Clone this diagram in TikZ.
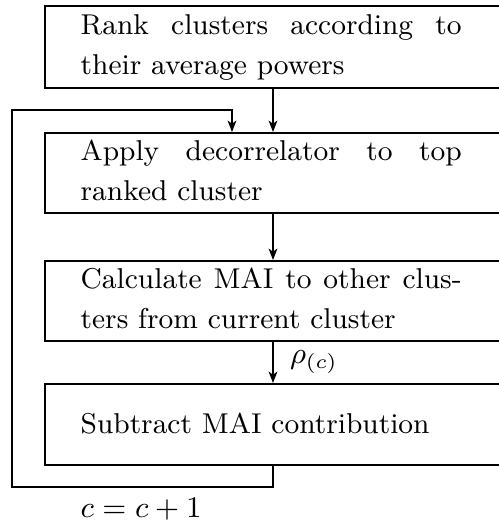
\documentclass[tikz,border=0pt]{standalone}
\usetikzlibrary{arrows.meta}
\begin{document}
\begin{tikzpicture}[x=0.3pt,y=-0.3pt,
  every node/.style={font=\fontsize{8.6}{12}\selectfont},
  stage/.style={draw, line width=0.6pt, rectangle, anchor=north west,
    minimum width=145pt, inner sep=0pt},
  blurb/.style={anchor=west, inner sep=0pt, text width=114.3pt,
    align=justify},
  arr/.style={line width=0.6pt, -{Stealth[length=3.4pt,width=2.6pt,inset=0.9pt]}}
]
\useasboundingbox (0,0) rectangle (499,520);

% processing stages
\node[stage, minimum height=24.6pt] (b1) at (44,5) {};
\node[stage, minimum height=24pt]   (b2) at (44,132) {};
\node[stage, minimum height=24pt]   (b3) at (44,260) {};
\node[stage, minimum height=24.3pt] (b4) at (44,383) {};

\node[blurb] (t1) at (80,46) {\strut Rank clusters according to\linebreak their average powers\strut};
\node[blurb] (t2) at (80,172) {\strut Apply decorrelator to top\linebreak ranked cluster\strut};
\node[blurb] (t3) at (80,300) {\strut Calculate MAI to other clus-\linebreak ters from current cluster\strut};
\node[blurb] (t4) at (80,423.5) {Subtract MAI contribution};

% column positions of the connectors
\coordinate (mx) at (273,0);
\coordinate (fx) at (232,0);
\coordinate (fbl) at (12,487);
\coordinate (fbt) at (12,110);

\draw[arr] (b1.south -| mx) -- (b2.north -| mx);
\draw[arr] (b2.south -| mx) -- (b3.north -| mx);
\draw[arr] (b3.south -| mx) -- (b4.north -| mx);

% feedback loop to the next cluster
\draw[arr] (b4.south -| mx) |- (fbl) -- (fbt) -| (b2.north -| fx);

\node (rho) at (314,362) {$\rho_{(c)}$};
\node (inc) at (141,509) {$c=c+1$};
\end{tikzpicture}
\end{document}
